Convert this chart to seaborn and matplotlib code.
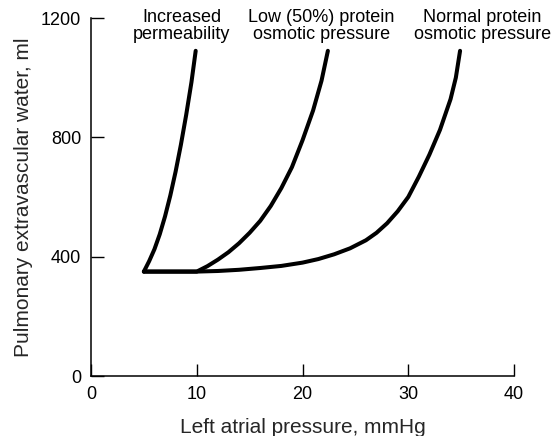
import matplotlib
matplotlib.use("Agg")
import matplotlib.pyplot as plt
import seaborn as sns
import pandas as pd

# values (left atrial pressure mmHg, extravascular water ml)
perm_pressure = [5, 5.5, 6, 6.5, 7, 7.5, 8, 8.5, 9, 9.5, 9.9]
perm_water = [350, 385, 425, 475, 535, 605, 685, 775, 875, 985, 1090]

low_pressure = [5, 10, 11, 12, 13, 14, 15, 16, 17, 18, 19, 20, 21, 21.8, 22.4]
low_water = [350, 350, 368, 390, 415, 445, 480, 520, 570, 630, 700, 790, 890, 990, 1090]

normal_pressure = [5, 10, 12, 14, 16, 18, 20, 21.5, 23, 24.5, 26, 27, 28, 29, 30,
                   31, 32, 33, 34, 34.5, 34.9]
normal_water = [350, 350, 352, 356, 362, 369, 380, 392, 408, 428, 455, 480, 512, 552, 600,
                668, 742, 825, 928, 1000, 1090]

curve_labels = ["Increased\npermeability",
                "Low (50%) protein\nosmotic pressure",
                "Normal protein\nosmotic pressure"]
label_x = [8.6, 21.8, 37.0]

x_ticks = [0, 10, 20, 30, 40]
y_ticks = [0, 400, 800, 1200]

sns.set_style("ticks")
plt.rcParams['font.family'] = ['Liberation Sans', 'DejaVu Sans']

df = pd.concat([
    pd.DataFrame({'pressure': perm_pressure, 'water': perm_water, 'curve': 'perm'}),
    pd.DataFrame({'pressure': low_pressure, 'water': low_water, 'curve': 'low'}),
    pd.DataFrame({'pressure': normal_pressure, 'water': normal_water, 'curve': 'normal'}),
])

fig = plt.figure(figsize=(5.56, 4.36), dpi=100)
ax = fig.add_axes([91 / 556, 60 / 436, 423 / 556, 358 / 436])

sns.lineplot(data=df, x='pressure', y='water', hue='curve', units='curve',
             estimator=None, palette=['black'] * 3, legend=False, ax=ax,
             linewidth=2.9, solid_capstyle='round', solid_joinstyle='round')

for txt, xx in zip(curve_labels, label_x):
    ax.text(xx, 1172, txt, ha='center', va='center', fontsize=13,
            linespacing=1.0, color='black', clip_on=False)

ax.set_xlim(0, 40)
ax.set_ylim(0, 1200)
ax.set_xticks(x_ticks)
ax.set_yticks(y_ticks)
ax.tick_params(direction='in', length=9, width=1, labelsize=13, pad=7, colors='black')
sns.despine(ax=ax)
for s in ['left', 'bottom']:
    ax.spines[s].set_linewidth(1.1)
    ax.spines[s].set_color('black')

ax.set_xlabel('Left atrial pressure, mmHg', fontsize=15, labelpad=11)
ax.set_ylabel('Pulmonary extravascular water, ml', fontsize=15, labelpad=6)

fig.savefig('out.png', dpi=100)
